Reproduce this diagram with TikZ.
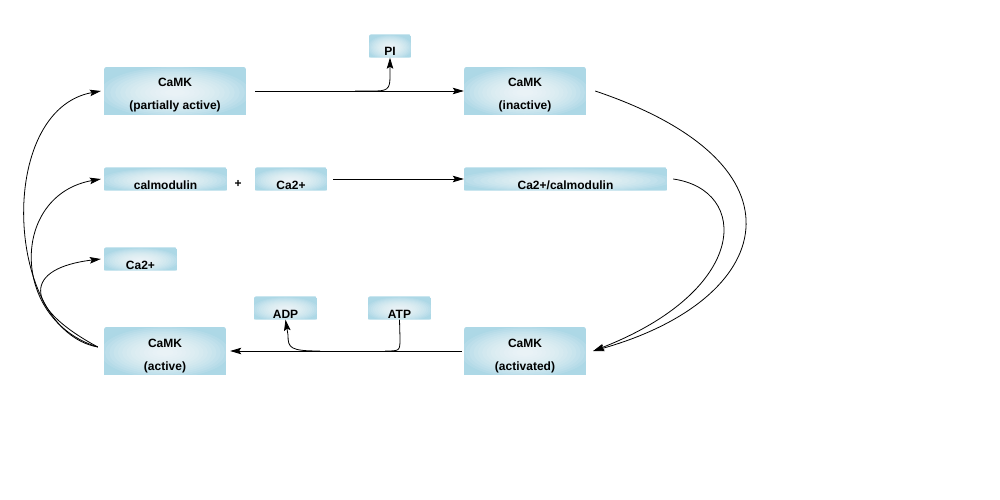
\documentclass[tikz,border=0pt]{standalone}
\usepackage{fontspec}
\setmainfont{Liberation Sans}
\usetikzlibrary{arrows.meta,backgrounds,calc}
\definecolor{boxblue}{HTML}{ADD8E6}
\newcommand{\boxbg}[3]{% node name, top corner depth, bottom corner depth
  \begin{scope}
  \path[clip] ([yshift=#3]#1.south west) -- ([yshift=-#2]#1.north west)
     .. controls (#1.north west) .. ([xshift=5pt]#1.north west)
     -- ([xshift=-5pt]#1.north east)
     .. controls (#1.north east) .. ([yshift=-#2]#1.north east)
     -- ([yshift=#3]#1.south east)
     .. controls (#1.south east) .. ([xshift=-3pt]#1.south east)
     -- ([xshift=3pt]#1.south west)
     .. controls (#1.south west) .. cycle;
  \fill[boxblue] (#1.south west) rectangle (#1.north east);
  \foreach \k in {1.05,0.98,0.91,0.84,0.77,0.70,0.63,0.56,0.49,0.42,0.35,0.28,0.21,0.14}{
    \path[fill=white, fill opacity=0.1] let \p1=(#1.north east), \p2=(#1.center) in
      ([yshift=-1.5pt]#1.center) ellipse [x radius={\k*(\x1-\x2)}, y radius={\k*(\y1-\y2)}];
  }
  \end{scope}}
\begin{document}
\begin{tikzpicture}[x=1pt,y=-1pt,
  cbox/.style={inner sep=0pt, align=center},
  bigbox/.style={cbox, minimum width=122pt, minimum height=48pt, font=\bfseries\fontsize{12}{23}\selectfont, text height=41pt, text depth=3pt},
  smallbox/.style={cbox, minimum height=23pt, font=\bfseries\fontsize{12}{14}\selectfont, text height=20pt, text depth=0pt},
  conn/.style={line width=0.8pt},
  tip/.style={-{Stealth[length=11pt,width=6.5pt,inset=2pt]}}]
\useasboundingbox (0,0) rectangle (1000,500);
% nodes
\node[bigbox, minimum width=142pt] (pa) at (175,91) {CaMK\\(partially active)};
\node[smallbox, minimum width=42pt] (pi) at (390,46) {PI};
\node[bigbox] (in) at (525,91) {CaMK\\(inactive)};
\node[smallbox, minimum width=123pt] (cal) at (165.5,179) {calmodulin};
\node[font=\bfseries\fontsize{12}{14}\selectfont] (plus) at (238,184) {+};
\node[smallbox, minimum width=72pt] (ca1) at (291,179) {Ca2+};
\node[smallbox, minimum width=203pt] (cc) at (565.5,179) {Ca2+/calmodulin};
\node[smallbox, minimum width=73pt] (ca2) at (140.5,259) {Ca2+};
\node[smallbox, minimum width=63pt] (adp) at (285.5,308) {ADP};
\node[smallbox, minimum width=63pt] (atp) at (399.5,308) {ATP};
\node[bigbox] (ac) at (165,351) {CaMK\\(active)};
\node[bigbox] (ad) at (525,351) {CaMK\\(activated)};
% box backgrounds
\begin{scope}[on background layer]
\foreach \bx in {pa,in,ac,ad}{\boxbg{\bx}{11pt}{3pt}}
\foreach \bx in {pi,cal,ca1,cc,ca2,adp,atp}{\boxbg{\bx}{7pt}{3pt}}
\end{scope}
% top reaction
\draw[conn,tip] ([xshift=9pt]pa.east) -- (in.west);
\coordinate (pb) at (355,91);
\draw[conn,tip] (pb) -- (376,91) .. controls (390,91) and (390,86) .. (390,74) -- (pi.south);
% middle reaction
\draw[conn,tip] ([xshift=6pt]ca1.east) -- (cc.west);
% bottom reaction
\draw[conn,tip] ([xshift=-2pt]ad.west) -- ([xshift=4pt]ac.east);
\draw[conn] (atp.south) -- (400,338) .. controls (400,351) .. (385,351);
\coordinate (ab) at (320,351);
\draw[conn,tip] (ab) .. controls (290,351) and (288,348) .. (288,335) -- (adp.south);
% right curves
\draw[conn,tip] ([xshift=9pt]in.east) .. controls (815,165) and (775,300) .. ([xshift=7pt]ad.east);
\draw[conn,tip] ([xshift=6pt]cc.east) .. controls (750,190) and (750,290) .. ([xshift=7pt]ad.east);
% left curves
\draw[conn,tip] ([xshift=-6pt,yshift=4pt]ac.west) .. controls (5,330) and (-5,110) .. ([xshift=-3pt]pa.west);
\draw[conn,tip] ([xshift=-6pt,yshift=4pt]ac.west) .. controls (10,320) and (10,195) .. ([xshift=-3pt]cal.west);
\draw[conn,tip] ([xshift=-6pt,yshift=4pt]ac.west) .. controls (20,305) and (25,268) .. ([xshift=-3pt]ca2.west);
\end{tikzpicture}
\end{document}
